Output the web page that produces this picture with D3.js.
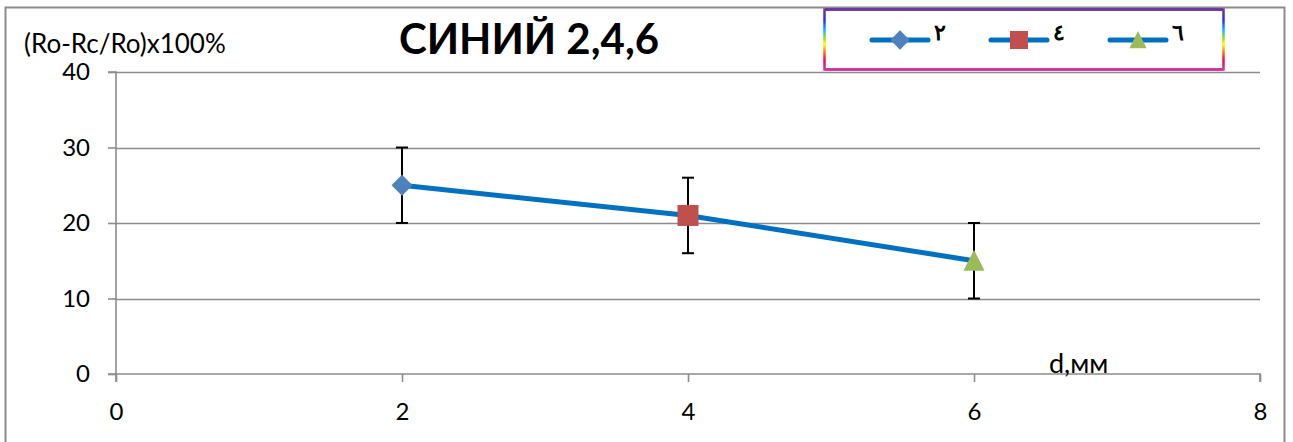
<!DOCTYPE html>
<html>
<head>
<meta charset="utf-8">
<script src="https://cdn.jsdelivr.net/npm/d3@7"></script>
<style>
  html, body { margin: 0; padding: 0; background: #fff; }
  svg { display: block; }
  text { font-family: Lato, "Open Sans", sans-serif; fill: #000; }
</style>
</head>
<body>
<svg id="chart" width="1293" height="442"></svg>
<script>
// Thickness d (mm) against relative change, with ± error bars
const categories = [2, 4, 6];
const values = [25, 21, 15];
const errors = [5, 5, 5];
const legendLabels = ["٢", "٤", "٦"];
const markerShapes = ["diamond", "square", "triangle"];
const markerColors = ["#4F81BD", "#C0504D", "#9BBB59"];
const xTicks = [0, 2, 4, 6, 8];
const yTicks = [0, 10, 20, 30, 40];
const titleText = "СИНИЙ 2,4,6";
const yTitle = "(Ro-Rc/Ro)x100%";
const xTitle = "d,мм";

const svg = d3.select("#chart");
const W = 1293, H = 442;
const plot = { left: 116, right: 1260, top: 72, bottom: 374 };
const axisColor = "#8c8c8c";

// chart area border (bottom edge lies outside the view)
svg.append("path")
  .attr("d", `M5.5,${H + 2} V7.5 H1284.5 V${H + 2}`)
  .attr("fill", "none").attr("stroke", axisColor).attr("stroke-width", 2);

const x = d3.scaleLinear().domain([0, 8]).range([plot.left, plot.right]);
const y = d3.scaleLinear().domain([0, 40]).range([plot.bottom, plot.top]);

// horizontal gridlines
svg.append("g").selectAll("line").data(yTicks.filter(t => t > 0)).join("line")
  .attr("x1", plot.left).attr("x2", plot.right)
  .attr("y1", d => Math.round(y(d)) + 0.5).attr("y2", d => Math.round(y(d)) + 0.5)
  .attr("stroke", axisColor).attr("stroke-width", 1.6);

// y axis
const yAxis = svg.append("g").attr("transform", `translate(${plot.left},0)`)
  .call(d3.axisLeft(y).tickValues(yTicks).tickSize(8).tickPadding(18));
// x axis
const xAxis = svg.append("g").attr("transform", `translate(0,${plot.bottom})`)
  .call(d3.axisBottom(x).tickValues(xTicks).tickSize(8).tickPadding(21));

[yAxis, xAxis].forEach(g => {
  g.select(".domain").attr("stroke", axisColor).attr("stroke-width", 1.6);
  g.selectAll(".tick line").attr("stroke", axisColor).attr("stroke-width", 1.6);
  g.selectAll(".tick text").attr("font-family", "Lato, 'Open Sans', sans-serif")
    .attr("font-size", 24).attr("fill", "#000");
});
xAxis.select(".domain").attr("d", `M${plot.left},8V0H${plot.right}V8`);
yAxis.select(".domain").attr("d", `M-8,${plot.top}H0V${plot.bottom}H-8`);

// series line
const line = d3.line().x((d, i) => x(categories[i])).y(d => y(d));
svg.append("path").datum(values)
  .attr("d", line)
  .attr("fill", "none").attr("stroke", "#0070C0").attr("stroke-width", 5)
  .attr("stroke-linejoin", "round");

// error bars
const eb = svg.append("g").attr("stroke", "#000").attr("stroke-width", 2);
categories.forEach((c, i) => {
  const cx = x(c), top = y(values[i] + errors[i]), bot = y(values[i] - errors[i]);
  eb.append("line").attr("x1", cx).attr("x2", cx).attr("y1", top).attr("y2", bot);
  eb.append("line").attr("x1", cx - 6).attr("x2", cx + 6).attr("y1", top).attr("y2", top);
  eb.append("line").attr("x1", cx - 6).attr("x2", cx + 6).attr("y1", bot).attr("y2", bot);
});

function markerPath(shape) {
  if (shape === "diamond") return "M0,-10.5L10.5,0L0,10.5L-10.5,0Z";
  if (shape === "square") return "M-10.5,-10.5H10.5V10.5H-10.5Z";
  return "M0,-11L10.5,10L-10.5,10Z";
}

// markers
svg.append("g").selectAll("path").data(values).join("path")
  .attr("transform", (d, i) => `translate(${x(categories[i])},${y(d)})`)
  .attr("d", (d, i) => markerPath(markerShapes[i]))
  .attr("fill", (d, i) => markerColors[i]);

// title
svg.append("text").attr("x", 529).attr("y", 54).attr("text-anchor", "middle")
  .attr("font-size", 42).attr("font-weight", "bold").text(titleText);

// axis titles
svg.append("text").attr("x", 24).attr("y", 53).attr("font-size", 26).text(yTitle);
svg.append("text").attr("x", 1049).attr("y", 373).attr("font-size", 27).text(xTitle);

// legend with gradient frame
const defs = svg.append("defs");
const grad = defs.append("linearGradient").attr("id", "frameGrad")
  .attr("x1", 0).attr("y1", 0).attr("x2", 0).attr("y2", 1);
[["0%", "#7030A0"], ["18%", "#2a2aff"], ["35%", "#00c0ff"], ["48%", "#a0e000"],
 ["58%", "#ffff00"], ["70%", "#ff8000"], ["84%", "#ff0040"], ["100%", "#cc3399"]]
  .forEach(([o, c]) => grad.append("stop").attr("offset", o).attr("stop-color", c));

const lg = svg.append("g");
lg.append("rect").attr("x", 824.5).attr("y", 9.5).attr("width", 399).attr("height", 60)
  .attr("fill", "#fff").attr("stroke", "url(#frameGrad)").attr("stroke-width", 2.5);
lg.append("line").attr("x1", 825).attr("x2", 1223).attr("y1", 9.5).attr("y2", 9.5)
  .attr("stroke", "#7030A0").attr("stroke-width", 2.5);
lg.append("line").attr("x1", 825).attr("x2", 1223).attr("y1", 69.5).attr("y2", 69.5)
  .attr("stroke", "#cc3399").attr("stroke-width", 2.5);

const legendX = [872, 991, 1110];
const legendScale = [0.92, 0.86, 0.82];
legendLabels.forEach((lab, i) => {
  const g = lg.append("g").attr("transform", `translate(${legendX[i]},40)`);
  g.append("line").attr("x1", 0).attr("x2", 56).attr("y1", 0).attr("y2", 0)
    .attr("stroke", "#0070C0").attr("stroke-width", 5).attr("stroke-linecap", "round");
  g.append("path").attr("transform", `translate(28,0) scale(${legendScale[i]})`)
    .attr("d", markerPath(markerShapes[i])).attr("fill", markerColors[i]);
  g.append("text").attr("x", 62).attr("y", 0).attr("font-size", 22)
    .attr("font-weight", "bold")
    .attr("font-family", "'DejaVu Sans', sans-serif").text(lab);
});
</script>
</body>
</html>
